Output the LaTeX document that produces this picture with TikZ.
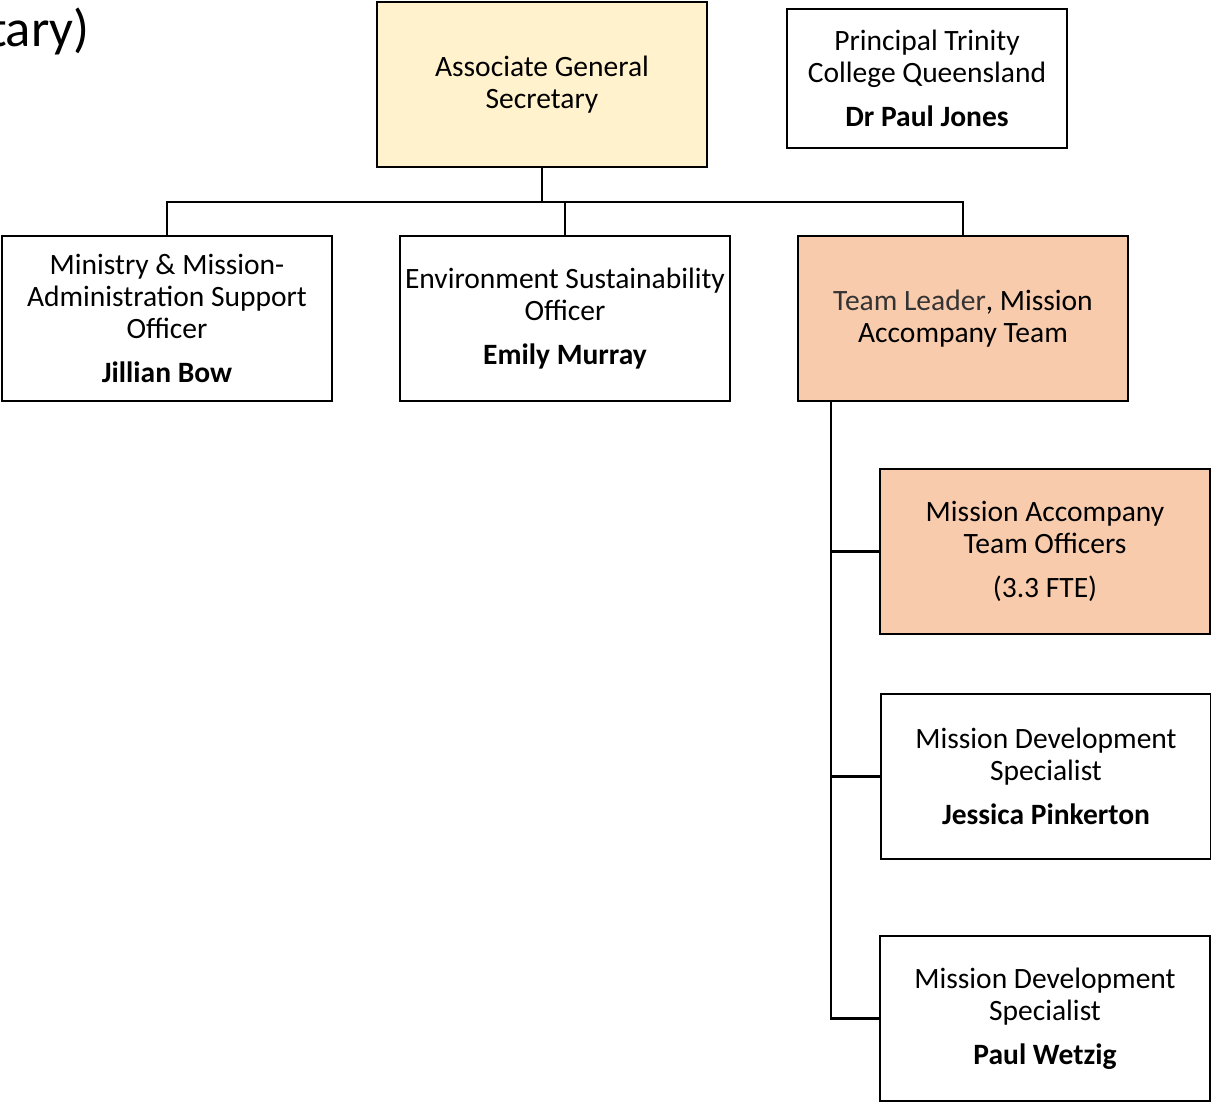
\documentclass[tikz,border=0pt]{standalone}
\usepackage{fontspec}
\setmainfont{Carlito}
\definecolor{agsyellow}{HTML}{FFF2CC}
\definecolor{teamorange}{HTML}{F8CBAD}
\begin{document}
\begin{tikzpicture}[x=0.02cm,y=-0.02cm,
    box/.style={draw,line width=1.2pt,minimum width=6.6cm,minimum height=3.3cm,
        inner sep=0pt,outer sep=0pt,align=center,font=\fontsize{16.8}{18.2}\selectfont},
    conn/.style={line width=1.5pt}]
    \useasboundingbox (0,0) rectangle (1211,1103);
    \begin{scope}
        \clip (0,0) rectangle (1211,1103);
        % cut-off title
        \node[anchor=base east,inner sep=0pt,font=\fontsize{30}{36}\selectfont]
            (title) at (90,46) {(Associate General Secretary)};
    \end{scope}
    % top row
    \node[box,fill=agsyellow] (ags) at (542,84.5)
        {Associate General\\Secretary};
    \node[box,minimum width=5.6cm,minimum height=2.78cm] (principal) at (927,78.5)
        {Principal Trinity\\College Queensland\\[7pt]\textbf{Dr Paul Jones}};
    % second row
    \node[box] (ministry) at (167,318.5)
        {Ministry \& Mission-\\Administration Support\\Officer\\[7pt]\textbf{Jillian Bow}};
    \node[box] (environment) at (565,318.5)
        {Environment Sustainability\\Officer\\[7pt]\textbf{Emily Murray}};
    \node[box,fill=teamorange] (leader) at (963,318.5)
        {\textcolor{black!80}{Team Leader}, Mission\\Accompany Team};
    % team
    \node[box,fill=teamorange] (officers) at (1045,551.5)
        {Mission Accompany\\Team Officers\\[7pt](3.3 FTE)};
    \node[box] (jessica) at (1046,776.5)
        {Mission Development\\Specialist\\[7pt]\textbf{Jessica Pinkerton}};
    \node[box] (paul) at (1045,1018.5)
        {Mission Development\\Specialist\\[7pt]\textbf{Paul Wetzig}};
    % connectors
    \coordinate (split) at (542,202);
    \draw[conn] (ags.south) -- (split);
    \draw[conn] (ministry.north) |- (split) -| (leader.north);
    \draw[conn] (environment.north) -- (environment.north |- split);
    \coordinate (spine) at (831,401);
    \draw[conn] (spine) |- (paul.west);
    \draw[conn] (officers.west) -- (officers.west -| spine);
    \draw[conn] (jessica.west) -- (jessica.west -| spine);
\end{tikzpicture}
\end{document}
